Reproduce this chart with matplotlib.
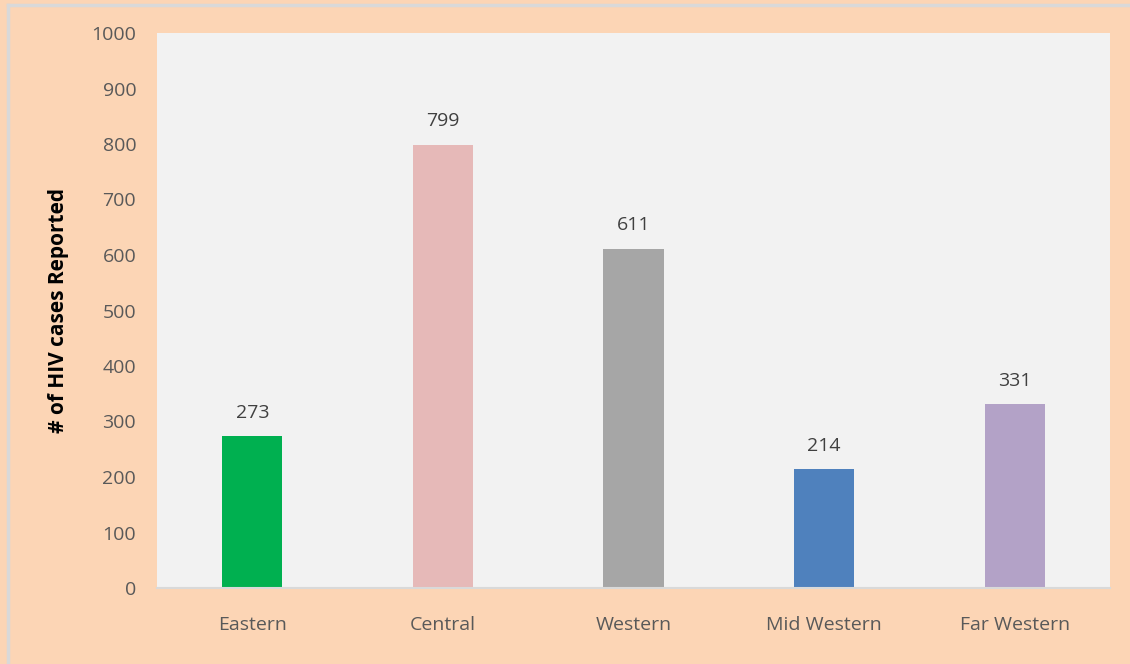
import matplotlib.pyplot as plt
from matplotlib.lines import Line2D

regions = ["Eastern", "Central", "Western", "Mid Western", "Far Western"]
cases = [273, 799, 611, 214, 331]
bar_colors = ["#00B050", "#E6B9B8", "#A6A6A6", "#4F81BD", "#B3A2C7"]
yticks = list(range(0, 1001, 100))

plt.rcParams['font.family'] = ['Open Sans', 'DejaVu Sans']

fig = plt.figure(figsize=(11.3, 6.64), dpi=100, facecolor="#FCD5B5")
ax = fig.add_axes([157 / 1130, 1 - 588 / 664, (1110 - 157) / 1130, (588 - 33) / 664])
ax.set_facecolor("#F2F2F2")

# 外枠（左と上だけ見えている）
bx, by = 8 / 1130, 1 - 5 / 664
fig.add_artist(Line2D([bx, bx], [0, by], transform=fig.transFigure,
                      color="#D9D9D9", linewidth=2.5))
fig.add_artist(Line2D([bx, 1], [by, by], transform=fig.transFigure,
                      color="#D9D9D9", linewidth=2.5))

x = list(range(len(regions)))
ax.bar(x, cases, width=0.315, color=bar_colors, zorder=2)
for xi, v in zip(x, cases):
    ax.annotate(str(v), (xi, v), xytext=(0, 17), textcoords="offset points",
                ha="center", va="center", fontsize=14, color="#404040")

ax.set_xlim(-0.5, len(regions) - 0.5)
ax.set_ylim(0, 1000)
ax.set_yticks(yticks)
ax.set_xticks(x)
ax.set_xticklabels(regions)
ax.tick_params(axis="both", length=0, labelsize=14, labelcolor="#595959")
ax.tick_params(axis="y", pad=15)
ax.tick_params(axis="x", pad=20)

for s in ["top", "right", "left"]:
    ax.spines[s].set_visible(False)
ax.spines["bottom"].set_color("#D9D9D9")
ax.spines["bottom"].set_linewidth(1.5)

ax.set_ylabel("# of HIV cases Reported", fontsize=15, fontweight="bold",
              color="black", labelpad=16)

fig.savefig("out.png", dpi=100, facecolor=fig.get_facecolor())
